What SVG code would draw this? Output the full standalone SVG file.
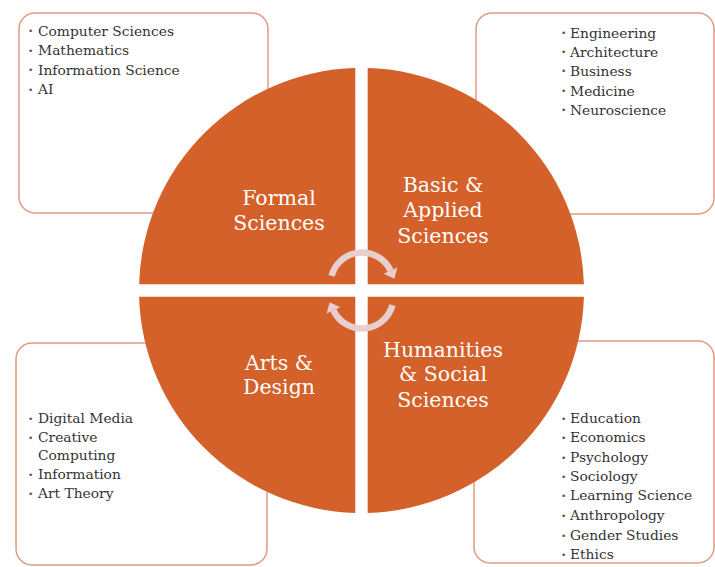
<svg xmlns="http://www.w3.org/2000/svg" width="715" height="567" viewBox="0 0 715 567">
<style>
.box{fill:#FFFFFF;stroke:#E09C80;stroke-width:1.5}
.q{fill:#D4602A}
.lbl{font-family:"DejaVu Serif","Liberation Serif",serif;font-size:20.5px;fill:#FFFFFF;text-anchor:middle}
.li{font-family:"DejaVu Serif","Liberation Serif",serif;font-size:13.8px;fill:#333333}
.bu{font-family:"DejaVu Sans",sans-serif;font-size:9px;fill:#555555}
.arc{fill:none;stroke:#E8CFCE;stroke-width:6.5}
.ah{fill:#E8CFCE}
</style>
<rect width="715" height="567" fill="#FFFFFF"/>
<g id="box-formal">
<rect class="box" x="19" y="13" width="249" height="200" rx="16"/>
<text class="bu" x="28" y="34">•</text><text class="li" x="38" y="35.5">Computer Sciences</text>
<text class="bu" x="28" y="53.5">•</text><text class="li" x="38" y="55">Mathematics</text>
<text class="bu" x="28" y="73">•</text><text class="li" x="38" y="74.5">Information Science</text>
<text class="bu" x="28" y="92.5">•</text><text class="li" x="38" y="94">AI</text>
</g>
<g id="box-applied">
<rect class="box" x="476" y="13" width="238" height="201" rx="16"/>
<text class="bu" x="561" y="36">•</text><text class="li" x="570" y="37.5">Engineering</text>
<text class="bu" x="561" y="55">•</text><text class="li" x="570" y="56.5">Architecture</text>
<text class="bu" x="561" y="74">•</text><text class="li" x="570" y="75.5">Business</text>
<text class="bu" x="561" y="94">•</text><text class="li" x="570" y="95.5">Medicine</text>
<text class="bu" x="561" y="113">•</text><text class="li" x="570" y="114.5">Neuroscience</text>
</g>
<g id="box-arts">
<rect class="box" x="16" y="343" width="251" height="222" rx="16"/>
<text class="bu" x="28" y="421.5">•</text><text class="li" x="38" y="423">Digital Media</text>
<text class="bu" x="28" y="440.5">•</text><text class="li" x="38" y="442">Creative</text>
<text class="li" x="38" y="460">Computing</text>
<text class="bu" x="28" y="477.5">•</text><text class="li" x="38" y="479">Information</text>
<text class="bu" x="28" y="496.5">•</text><text class="li" x="38" y="498">Art Theory</text>
</g>
<g id="box-humanities">
<rect class="box" x="474" y="341" width="240" height="222" rx="16"/>
<text class="bu" x="561" y="421.5">•</text><text class="li" x="570" y="423">Education</text>
<text class="bu" x="561" y="440.5">•</text><text class="li" x="570" y="442">Economics</text>
<text class="bu" x="561" y="460.5">•</text><text class="li" x="570" y="462">Psychology</text>
<text class="bu" x="561" y="479.5">•</text><text class="li" x="570" y="481">Sociology</text>
<text class="bu" x="561" y="498.5">•</text><text class="li" x="570" y="500">Learning Science</text>
<text class="bu" x="561" y="518.5">•</text><text class="li" x="570" y="520">Anthropology</text>
<text class="bu" x="561" y="538.5">•</text><text class="li" x="570" y="540">Gender Studies</text>
<text class="bu" x="561" y="557.5">•</text><text class="li" x="570" y="559">Ethics</text>
</g>
<g id="q-formal">
<path class="q" d="M355.3,284.3 L355.3,68.1 A222.5,222.5 0 0 0 139.1,284.3 Z"/>
<text class="lbl" x="279" y="205">Formal</text>
<text class="lbl" x="279" y="230">Sciences</text>
</g>
<g id="q-applied">
<path class="q" d="M367.7,284.3 L367.7,68.1 A222.5,222.5 0 0 1 583.9,284.3 Z"/>
<text class="lbl" x="443" y="192">Basic &amp;</text>
<text class="lbl" x="443" y="217">Applied</text>
<text class="lbl" x="443" y="242.5">Sciences</text>
</g>
<g id="q-arts">
<path class="q" d="M355.3,296.7 L355.3,512.9 A222.5,222.5 0 0 1 139.1,296.7 Z"/>
<text class="lbl" x="279" y="370">Arts &amp;</text>
<text class="lbl" x="279" y="393.5">Design</text>
</g>
<g id="q-humanities">
<path class="q" d="M367.7,296.7 L367.7,512.9 A222.5,222.5 0 0 0 583.9,296.7 Z"/>
<text class="lbl" x="443" y="356.5">Humanities</text>
<text class="lbl" x="443" y="381">&amp; Social</text>
<text class="lbl" x="443" y="406.5">Sciences</text>
</g>
<g id="connectors">
<path class="arc" d="M331.57,275.85 A31.5,31.5 0 0 1 390.55,270.69"/>
<polygon class="ah" points="397.35,267.52 383.75,273.86 394.35,278.85"/>
<path class="arc" d="M392.43,305.15 A31.5,31.5 0 0 1 333.45,310.31"/>
<polygon class="ah" points="326.65,313.48 340.25,307.14 329.65,302.15"/>
</g>
</svg>
